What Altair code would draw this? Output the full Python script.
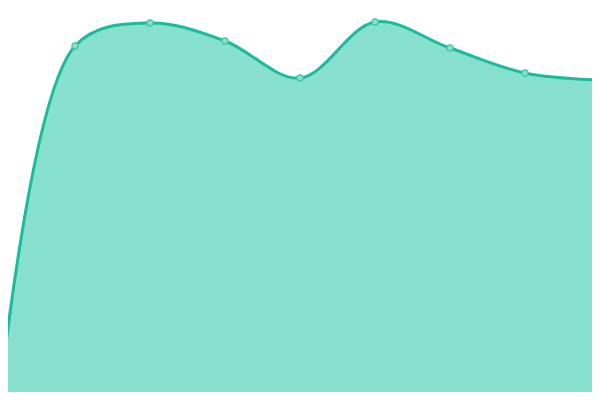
import altair as alt
import pandas as pd

idx = [0, 1, 2, 3, 4, 5, 6, 7, 8]
values = [3, 354, 377, 359, 322, 378, 352, 327, 320]

df = pd.DataFrame({"i": idx, "v": values})

x = alt.X("i:Q", scale=alt.Scale(domain=[8 / 75, 592 / 75], nice=False, zero=False), axis=None)
y = alt.Y("v:Q", scale=alt.Scale(domain=[8, 392], nice=False, zero=False), axis=None)

base = alt.Chart(df).encode(x=x, y=y)

area = base.mark_area(interpolate="catmull-rom", color="#88e0cf", opacity=1, clip=True)
line = base.mark_line(interpolate="catmull-rom", color="#1abc9c", strokeWidth=3, clip=True)
pts = base.mark_point(filled=True, size=40, fill="#88e0cf", stroke="#3cc4a6",
                      strokeWidth=1.2, opacity=1, clip=True)

chart = alt.layer(area, line, pts).properties(
    width=584, height=384, padding=0, autosize=alt.AutoSizeParams(type="none")
).configure_view(stroke=None)

chart.save("out.html", embed_options={"renderer": "svg", "actions": False})
